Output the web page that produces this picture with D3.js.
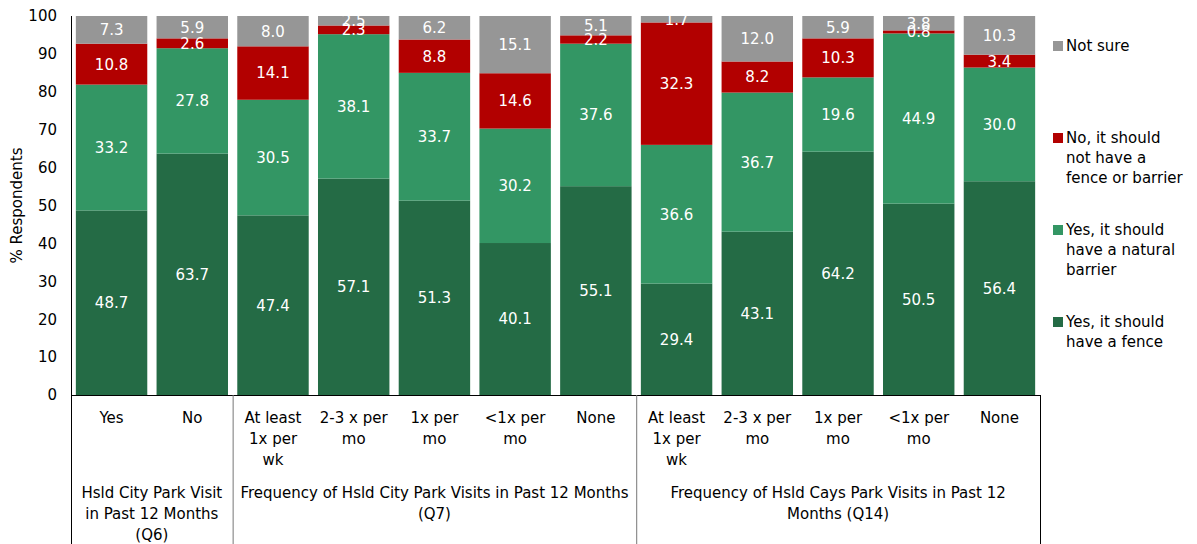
<!DOCTYPE html>
<html>
<head>
<meta charset="utf-8">
<script src="https://cdn.jsdelivr.net/npm/d3@7"></script>
<style>
  html, body { margin: 0; padding: 0; background: #fff; }
  svg { display: block; font-family: "DejaVu Sans", sans-serif; }
</style>
</head>
<body>
<svg id="chart" width="1197" height="544"></svg>
<script>
// Category labels (multi-line labels separated by \n)
const categories = [
  "Yes", "No",
  "At least\n1x per\nwk", "2-3 x per\nmo", "1x per\nmo", "<1x per\nmo", "None",
  "At least\n1x per\nwk", "2-3 x per\nmo", "1x per\nmo", "<1x per\nmo", "None"
];

// Category groups and how many categories each spans
const groupLabels = [
  "Hsld City Park Visit\nin Past 12 Months\n(Q6)",
  "Frequency of Hsld City Park Visits in Past 12 Months\n(Q7)",
  "Frequency of Hsld Cays Park Visits in Past 12\nMonths (Q14)"
];
const groupSizes = [2, 5, 5];

// Series values (% respondents), stacked bottom to top
const fenceValues   = [48.7, 63.7, 47.4, 57.1, 51.3, 40.1, 55.1, 29.4, 43.1, 64.2, 50.5, 56.4];
const naturalValues = [33.2, 27.8, 30.5, 38.1, 33.7, 30.2, 37.6, 36.6, 36.7, 19.6, 44.9, 30.0];
const noValues      = [10.8,  2.6, 14.1,  2.3,  8.8, 14.6,  2.2, 32.3,  8.2, 10.3,  0.8,  3.4];
const notSureValues = [ 7.3,  5.9,  8.0,  2.5,  6.2, 15.1,  5.1,  1.7, 12.0,  5.9,  3.8, 10.3];

const legendLabels = [
  "Yes, it should\nhave a fence",
  "Yes, it should\nhave a natural\nbarrier",
  "No, it should\nnot have a\nfence or barrier",
  "Not sure"
];
const yTicks = [0, 10, 20, 30, 40, 50, 60, 70, 80, 90, 100];

const colors = ["#246b45", "#339664", "#b20000", "#969696"];

const svg = d3.select("#chart");
const margin = { left: 71, right: 1040, top: 16, bottom: 395 };

const rows = categories.map((c, i) => ({
  idx: i,
  s0: fenceValues[i], s1: naturalValues[i], s2: noValues[i], s3: notSureValues[i]
}));
const keys = ["s0", "s1", "s2", "s3"];

const x = d3.scaleBand()
  .domain(rows.map(d => d.idx))
  .range([margin.left, margin.right])
  .paddingInner(0.115)
  .paddingOuter(0.06);

const y = d3.scaleLinear().domain([0, 100]).range([margin.bottom, margin.top]);

const stacked = d3.stack().keys(keys)(rows);

// clip marks and value labels to the plot area
svg.append("defs").append("clipPath").attr("id", "plotClip")
  .append("rect")
  .attr("x", margin.left).attr("y", margin.top)
  .attr("width", margin.right - margin.left)
  .attr("height", margin.bottom - margin.top);

const plot = svg.append("g").attr("clip-path", "url(#plotClip)");

stacked.forEach((layer, li) => {
  plot.append("g").selectAll("rect")
    .data(layer)
    .join("rect")
    .attr("x", d => x(d.data.idx))
    .attr("width", x.bandwidth())
    .attr("y", d => y(d[1]))
    .attr("height", d => y(d[0]) - y(d[1]))
    .attr("fill", colors[li]);
});

stacked.forEach((layer, li) => {
  plot.append("g").selectAll("text")
    .data(layer)
    .join("text")
    .attr("x", d => x(d.data.idx) + x.bandwidth() / 2)
    .attr("y", d => y((d[0] + d[1]) / 2))
    .attr("dy", "0.36em")
    .attr("text-anchor", "middle")
    .attr("fill", "#fff")
    .attr("font-size", 15)
    .text(d => (d[1] - d[0]).toFixed(1));
});

// y axis
const yAxis = d3.axisLeft(y).tickValues(yTicks).tickSize(0).tickPadding(14);
const yg = svg.append("g").attr("transform", `translate(${margin.left},0)`).call(yAxis);
yg.select(".domain").remove();
yg.selectAll("text").attr("font-size", 15).attr("fill", "#000")
  .attr("font-family", "DejaVu Sans, sans-serif");

svg.append("line")
  .attr("x1", margin.left + 0.5).attr("x2", margin.left + 0.5)
  .attr("y1", margin.top).attr("y2", 544)
  .attr("stroke", "#000");

svg.append("text")
  .attr("transform", `translate(22,${(margin.top + margin.bottom) / 2}) rotate(-90)`)
  .attr("text-anchor", "middle")
  .attr("font-size", 15)
  .text("% Respondents");

// x axis baseline
svg.append("line")
  .attr("x1", margin.left).attr("x2", margin.right + 0.5)
  .attr("y1", margin.bottom + 0.5).attr("y2", margin.bottom + 0.5)
  .attr("stroke", "#000");

// category labels
const step = x.step();
svg.append("g").selectAll("text")
  .data(rows)
  .join("text")
  .attr("text-anchor", "middle")
  .attr("font-size", 15)
  .attr("transform", d => `translate(${x(d.idx) + x.bandwidth() / 2},423)`)
  .each(function(d) {
    categories[d.idx].split("\n").forEach((line, k) => {
      d3.select(this).append("tspan").attr("x", 0).attr("y", k * 21).text(line);
    });
  });

// group separators and group labels
let start = 0;
const bounds = [];
groupSizes.forEach((n, gi) => {
  const x0 = gi === 0 ? margin.left : x(start) - (step - x.bandwidth()) / 2;
  const last = start + n - 1;
  const x1 = gi === groupSizes.length - 1 ? margin.right : x(last) + x.bandwidth() + (step - x.bandwidth()) / 2;
  bounds.push([x0, x1]);
  start += n;
});

bounds.forEach(([x0, x1], gi) => {
  if (gi > 0) {
    svg.append("line")
      .attr("x1", x0 + 0.5).attr("x2", x0 + 0.5)
      .attr("y1", margin.bottom).attr("y2", 544)
      .attr("stroke", "#777");
  }
  const t = svg.append("text")
    .attr("text-anchor", "middle")
    .attr("font-size", 15)
    .attr("transform", `translate(${(x0 + x1) / 2},498)`);
  groupLabels[gi].split("\n").forEach((line, k) => {
    t.append("tspan").attr("x", 0).attr("y", k * 21).text(line);
  });
});

svg.append("line")
  .attr("x1", margin.right + 0.5).attr("x2", margin.right + 0.5)
  .attr("y1", margin.bottom).attr("y2", 544)
  .attr("stroke", "#000");

// legend (top entry is the top series)
const legendY = [46, 138, 230, 322];
const legend = svg.append("g");
[3, 2, 1, 0].forEach((si, k) => {
  const g = legend.append("g").attr("transform", `translate(1053,${legendY[k]})`);
  g.append("rect").attr("x", 0).attr("y", -5).attr("width", 10).attr("height", 10).attr("fill", colors[si]);
  const t = g.append("text").attr("font-size", 15);
  legendLabels[si].split("\n").forEach((line, j) => {
    t.append("tspan").attr("x", 13).attr("y", j * 20).attr("dy", "0.36em").text(line);
  });
});
</script>
</body>
</html>
